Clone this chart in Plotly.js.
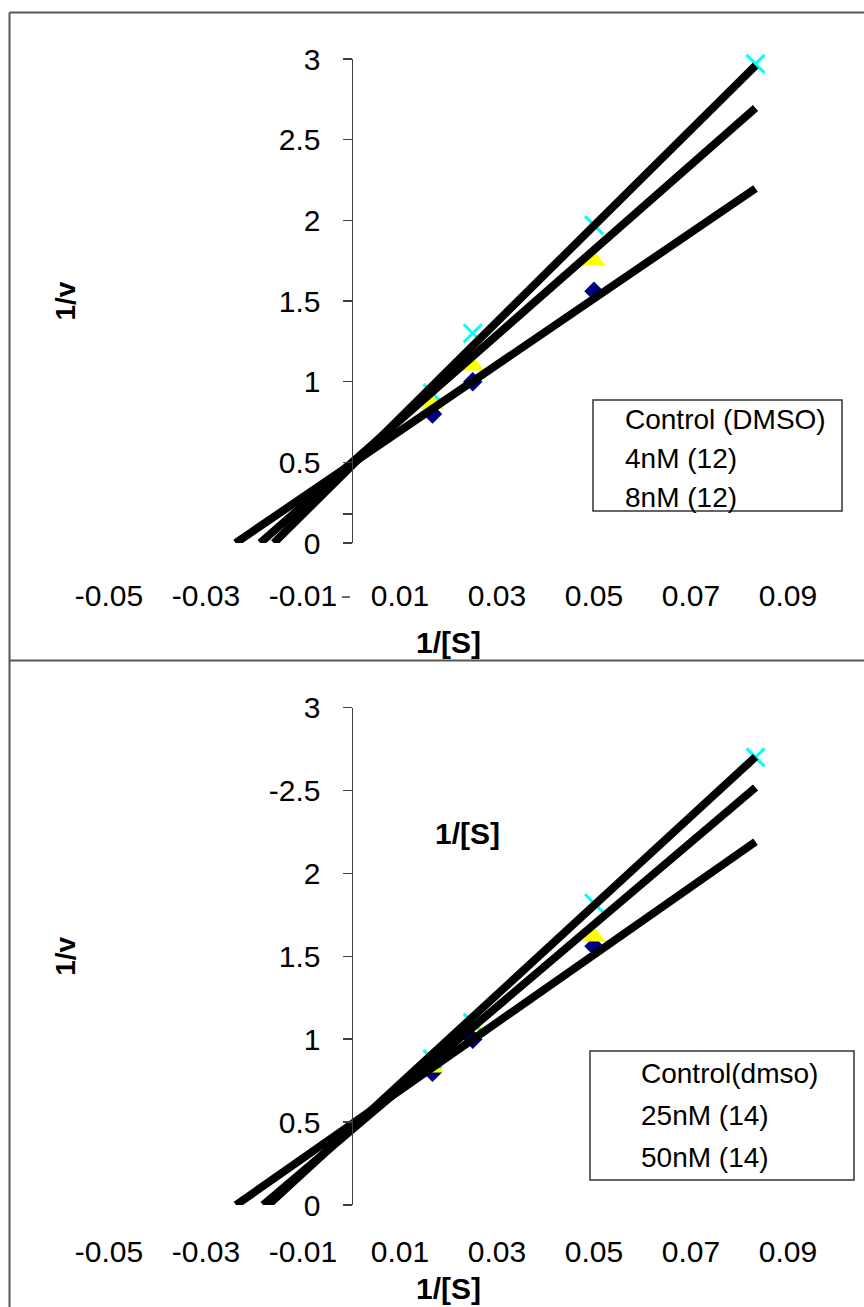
<!DOCTYPE html>
<html>
<head>
<meta charset="utf-8">
<script src="https://cdn.plot.ly/plotly-3.0.1.min.js"></script>
<style>html,body{margin:0;padding:0;background:#fff;}#chart{width:864px;height:1307px;}</style>
</head>
<body>
<div id="chart"></div>
<script>
// ---------- data ----------
const invS = [0.0167, 0.025, 0.05, 0.0833];            // 1/[S]

// top panel (compound 12); null = point not visible in the picture
const topNames   = ["Control (DMSO)", "4nM (12)", "8nM (12)"];
const topControl = [0.80, 1.00, 1.56, null];
const top4nM     = [0.86, 1.10, 1.75, null];
const top8nM     = [0.93, 1.30, 1.97, 2.97];
const topSlope     = [20.5, 26.4, 29.8];
const topIntercept = [0.490, 0.497, 0.477];

// bottom panel (compound 14)
const botNames   = ["Control(dmso)", "25nM (14)", "50nM (14)"];
const botControl = [0.80, 1.00, 1.56, null];
const bot25nM    = [0.83, 1.08, 1.62, null];
const bot50nM    = [0.88, 1.10, 1.82, 2.70];
const botSlope     = [20.45, 24.8, 26.9];
const botIntercept = [0.487, 0.452, 0.462];

const xTickVals = [-0.05, -0.03, -0.01, 0.01, 0.03, 0.05, 0.07, 0.09];
const xTickText = ["-0.05", "-0.03", "-0.01", "0.01", "0.03", "0.05", "0.07", "0.09"];
const topYTickVals = [0, 0.18, 0.5, 1, 1.5, 2, 2.5, 3];
const topYTickText = ["0", "", "0.5", "1", "1.5", "2", "2.5", "3"];
const botYTickVals = [0, 0.5, 1, 1.5, 2, 2.5, 3];
const botYTickText = ["0", "0.5", "1", "1.5", "2", "-2.5", "3"];

// ---------- styling ----------
const W = 864, H = 1307;
const FONT = "Liberation Sans, Arial, sans-serif";
const px = v => v / W;
const py = v => (H - v) / H;

const markerStyles = [
  {symbol: "diamond", size: 15, color: "#000080"},
  {symbol: "triangle-up", size: 20, color: "#FFFF00"},
  {symbol: "x-thin", size: 18, color: "#00FFFF", line: {color: "#00FFFF", width: 3}}
];

function panelTraces(series, slopes, intercepts, names, xa, ya, legendId) {
  const tr = [];
  series.forEach((ys, i) => {
    tr.push({
      x: invS, y: ys, xaxis: xa, yaxis: ya, mode: "markers", type: "scatter",
      marker: markerStyles[i], cliponaxis: false, showlegend: false, hoverinfo: "x+y"
    });
  });
  series.forEach((ys, i) => {
    const x0 = -intercepts[i] / slopes[i];
    const x1 = invS[invS.length - 1];
    tr.push({
      x: [x0, x1], y: [0, intercepts[i] + slopes[i] * x1], xaxis: xa, yaxis: ya,
      mode: "lines", type: "scatter", line: {color: "#000", width: 8},
      showlegend: false, hoverinfo: "skip"
    });
  });
  names.forEach((n, i) => {
    tr.push({
      x: [null], y: [null], xaxis: xa, yaxis: ya, mode: "markers", type: "scatter",
      name: n, legendgroup: legendId + "_" + i,
      marker: {color: "rgba(0,0,0,0)", size: 1}, legend: legendId, showlegend: true
    });
  });
  return tr;
}

const data = [
  ...panelTraces([topControl, top4nM, top8nM], topSlope, topIntercept, topNames, "x", "y", "legend"),
  ...panelTraces([botControl, bot25nM, bot50nM], botSlope, botIntercept, botNames, "x2", "y2", "legend2")
];

const xRange = [-0.055, 0.095];
const xDomain = [px(351.5 + 4850 * xRange[0]), px(351.5 + 4850 * xRange[1])];

function xAxis(pos, standoff) {
  return {
    domain: xDomain, range: xRange, anchor: "free", position: pos,
    tickvals: xTickVals, ticktext: xTickText, ticks: "",
    showline: false, showgrid: false, zeroline: false, automargin: false,
    tickfont: {family: FONT, size: 30, color: "#000"},
    title: {text: "<b>1/[S]</b>", font: {family: FONT, size: 30, color: "#000"}, standoff: standoff}
  };
}
function yAxis(domain, vals, text, standoff) {
  return {
    domain: domain, range: [0, 3], anchor: "free", position: px(351.5),
    tickvals: vals, ticktext: text, ticks: "outside", ticklen: 9, tickwidth: 1.5,
    tickcolor: "#404040", showline: true, linecolor: "#404040", linewidth: 1.5,
    showgrid: false, zeroline: false, automargin: false, ticklabelstandoff: 16,
    tickfont: {family: FONT, size: 30, color: "#000"},
    title: {text: "<b>1/v</b>", font: {family: FONT, size: 28, color: "#000"}, standoff: standoff}
  };
}

const legendBase = {
  xanchor: "left", yanchor: "top", bgcolor: "rgba(0,0,0,0)", borderwidth: 0,
  font: {family: FONT, size: 28, color: "#000"}, itemclick: false, itemdoubleclick: false
};

const lineStyle = {color: "#555", width: 2};
const boxStyle = {color: "#333", width: 1.5};
const layout = {
  width: W, height: H, margin: {l: 0, r: 0, t: 0, b: 0},
  paper_bgcolor: "#fff", plot_bgcolor: "rgba(0,0,0,0)",
  font: {family: FONT, color: "#000"},
  xaxis: xAxis(py(575), 20),
  yaxis: yAxis([py(543), py(59)], topYTickVals, topYTickText, 193),
  xaxis2: xAxis(py(1231), 10),
  yaxis2: yAxis([py(1205), py(707.6)], botYTickVals, botYTickText, 183),
  legend: Object.assign({}, legendBase, {x: px(585), y: py(393), tracegroupgap: 0}),
  legend2: Object.assign({}, legendBase, {x: px(601), y: py(1047), tracegroupgap: 3}),
  annotations: [
    {xref: "paper", yref: "paper", x: px(467), y: py(833), text: "<b>1/[S]</b>",
     showarrow: false, font: {family: FONT, size: 30, color: "#000"}}
  ],
  shapes: [
    {type: "line", xref: "paper", yref: "paper", x0: px(9.5), x1: 1, y0: py(12.5), y1: py(12.5), line: lineStyle},
    {type: "line", xref: "paper", yref: "paper", x0: px(9.5), x1: px(9.5), y0: 0, y1: py(12.5), line: lineStyle},
    {type: "line", xref: "paper", yref: "paper", x0: px(9.5), x1: 1, y0: py(660.5), y1: py(660.5), line: lineStyle},
    {type: "line", xref: "paper", yref: "paper", x0: px(342), x1: px(350), y0: py(597), y1: py(597), line: {color: "#404040", width: 1.5}},
    // legend frames
    {type: "rect", xref: "paper", yref: "paper", x0: px(593), x1: px(842), y0: py(511), y1: py(400), line: boxStyle, layer: "below"},
    {type: "rect", xref: "paper", yref: "paper", x0: px(590), x1: px(854), y0: py(1180), y1: py(1051), line: boxStyle, layer: "below"}
  ]
};

Plotly.newPlot("chart", data, layout, {staticPlot: true, displayModeBar: false});
</script>
</body>
</html>
